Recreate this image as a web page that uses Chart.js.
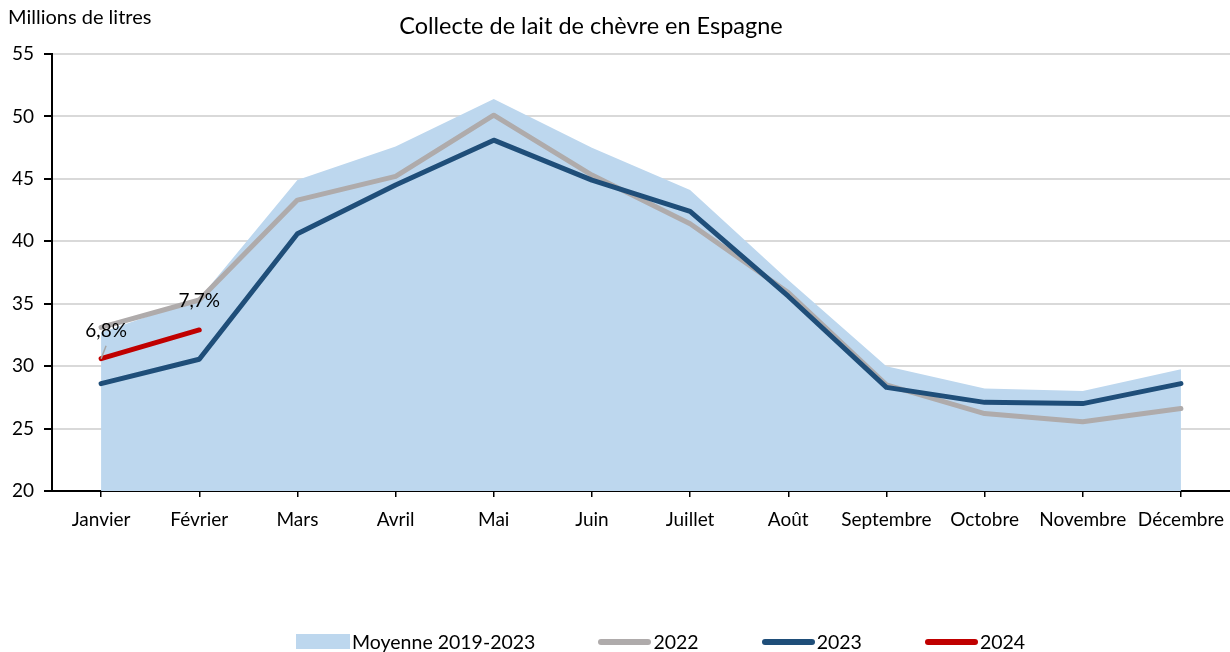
<!DOCTYPE html>
<html>
<head>
<meta charset="utf-8">
<script src="https://cdn.jsdelivr.net/npm/chart.js@4"></script>
<style>
  body { margin: 0; background: #fff; }
  #wrap { position: relative; width: 1230px; height: 652px; font-family: Lato, sans-serif; color: #000; }
  #chart { position: absolute; left: 0; top: 0; }
  #unit { position: absolute; left: 8px; top: 4px; font-size: 20px; }
  #title { position: absolute; left: 0; width: 1182px; top: 11px; text-align: center; font-size: 23.5px; }
  #legend { position: absolute; top: 630px; left: 296px; display: flex; align-items: center; font-size: 19.5px; white-space: nowrap; }
  .item { display: flex; align-items: center; margin-right: 63px; }
  .swatch { display: inline-block; margin-right: 2px; }
</style>
</head>
<body>
<div id="wrap">
  <canvas id="chart" width="1230" height="652"></canvas>
  <div id="unit">Millions de litres</div>
  <div id="title">Collecte de lait de chèvre en Espagne</div>
  <div id="legend"></div>
</div>
<script>
// Data
const months = ['Janvier', 'Février', 'Mars', 'Avril', 'Mai', 'Juin', 'Juillet', 'Août', 'Septembre', 'Octobre', 'Novembre', 'Décembre'];
const avg2019_2023 = [32.7, 35.4, 44.9, 47.6, 51.4, 47.5, 44.1, 36.9, 30.0, 28.2, 28.0, 29.75];
const y2022 = [33.1, 35.3, 43.3, 45.2, 50.1, 45.3, 41.4, 35.9, 28.5, 26.2, 25.55, 26.6];
const y2023 = [28.6, 30.55, 40.6, 44.5, 48.1, 44.9, 42.4, 35.6, 28.3, 27.1, 27.0, 28.6];
const y2024 = [30.6, 32.9];
const growthLabels = ['6,8%', '7,7%'];
const yTicks = [20, 25, 30, 35, 40, 45, 50, 55];

const colors = {
    avg: '#bdd7ee',
    y2022: '#afabab',
    y2023: '#1f4e79',
    y2024: '#c00000'
};

// Little plugin to write the growth labels above the 2024 points
const growthPlugin = {
    id: 'growth',
    afterDatasetsDraw(chart) {
        const ctx = chart.ctx;
        const x = chart.scales.x;
        const y = chart.scales.y;
        ctx.save();
        ctx.font = '19px Lato, sans-serif';
        ctx.fillStyle = '#000';
        ctx.textAlign = 'center';
        ctx.textBaseline = 'middle';
        growthLabels.forEach((txt, i) => {
            const px = x.getPixelForValue(i);
            const py = y.getPixelForValue(y2024[i]);
            if (i === 0) {
                // leader line
                ctx.strokeStyle = '#a6a6a6';
                ctx.lineWidth = 1.5;
                ctx.beginPath();
                ctx.moveTo(px, py);
                ctx.lineTo(px + 5, py - 13);
                ctx.stroke();
                ctx.fillText(txt, px + 5, py - 28);
            } else {
                ctx.fillText(txt, px, py - 29);
            }
        });
        ctx.restore();
    }
};

const ctx = document.getElementById('chart').getContext('2d');
new Chart(ctx, {
    type: 'line',
    data: {
        labels: months,
        datasets: [
            {
                label: 'Moyenne 2019-2023',
                data: avg2019_2023,
                backgroundColor: colors.avg,
                borderWidth: 0,
                fill: 'start',
                pointRadius: 0,
                tension: 0,
                order: 4
            },
            {
                label: '2022',
                data: y2022,
                borderColor: colors.y2022,
                borderWidth: 5,
                pointRadius: 0,
                fill: false,
                borderCapStyle: 'round',
                borderJoinStyle: 'round',
                order: 3
            },
            {
                label: '2023',
                data: y2023,
                borderColor: colors.y2023,
                borderWidth: 5,
                pointRadius: 0,
                fill: false,
                borderCapStyle: 'round',
                borderJoinStyle: 'round',
                order: 2
            },
            {
                label: '2024',
                data: y2024,
                borderColor: colors.y2024,
                borderWidth: 5,
                pointRadius: 0,
                fill: false,
                borderCapStyle: 'round',
                borderJoinStyle: 'round',
                order: 1
            }
        ]
    },
    options: {
        responsive: false,
        animation: false,
        layout: { padding: { top: 54, right: 0, bottom: 111, left: 0 } },
        plugins: {
            legend: { display: false },
            title: { display: false },
            tooltip: { enabled: false }
        },
        scales: {
            x: {
                offset: true,
                border: { color: '#000', width: 2 },
                grid: { drawOnChartArea: false, drawTicks: true, tickLength: 6, tickColor: '#000', lineWidth: 1.5 },
                ticks: { color: '#000', font: { family: 'Lato', size: 19 }, autoSkip: false, maxRotation: 0, padding: 11 },
                afterFit(scale) {
                    scale.height = 50;
                    // let the plot run to the right edge like the original
                    scale.paddingRight = 0;
                    scale.paddingLeft = 0;
                }
            },
            y: {
                min: 20,
                max: 55,
                afterBuildTicks(scale) { scale.ticks = yTicks.map(v => ({ value: v })); },
                border: { color: '#000', width: 2 },
                grid: { color: '#d9d9d9', lineWidth: 2, tickLength: 8, tickColor: '#000' },
                ticks: { color: '#000', font: { family: 'Lato', size: 19 }, padding: 10 },
                afterFit(scale) { scale.width = 52; }
            }
        }
    },
    plugins: [growthPlugin]
});

// HTML legend
const legendItems = [
    { text: 'Moyenne 2019-2023', color: colors.avg, box: true },
    { text: '2022', color: colors.y2022 },
    { text: '2023', color: colors.y2023 },
    { text: '2024', color: colors.y2024 }
];
const legend = document.getElementById('legend');
legendItems.forEach(it => {
    const item = document.createElement('div');
    item.className = 'item';
    const sw = document.createElement('span');
    sw.className = 'swatch';
    if (it.box) {
        sw.style.cssText = `width:54px;height:15px;background:${it.color};`;
    } else {
        sw.style.cssText = `width:53px;height:6px;border-radius:3px;background:${it.color};`;
    }
    const label = document.createElement('span');
    label.textContent = it.text;
    item.appendChild(sw);
    item.appendChild(label);
    legend.appendChild(item);
});
</script>
</body>
</html>
